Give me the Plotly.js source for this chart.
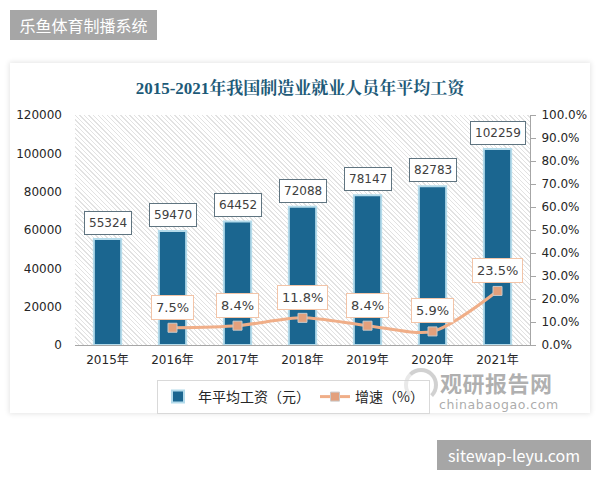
<!DOCTYPE html>
<html><head><meta charset="utf-8">
<script src="https://cdn.plot.ly/plotly-3.0.1.min.js"></script>
<style>
html,body{margin:0;padding:0;background:#fff;width:600px;height:480px;overflow:hidden;position:relative;font-family:"Noto Sans CJK SC",sans-serif;}
#card{position:absolute;left:10px;top:63px;width:580px;height:350px;background:#fff;box-shadow:0 0 5px 1px rgba(0,0,0,0.10);}
#hatch{position:absolute;left:75px;top:115px;width:455px;height:230px;
 background:repeating-linear-gradient(45deg,#ffffff 0px,#ffffff 2.2px,#e2e2e2 2.2px,#e2e2e2 3.2px);}
#chart{position:absolute;left:0;top:0;width:600px;height:480px;}
.tag{position:absolute;background:#a6a6a6;color:#fff;font-size:16px;line-height:30px;text-align:center;font-family:"Noto Sans CJK SC","Noto Sans",sans-serif;}
#wm1{position:absolute;left:440px;top:372px;font-size:22px;font-weight:bold;color:rgba(150,150,150,0.75);font-family:"Noto Sans CJK SC",sans-serif;pointer-events:none;line-height:21px;letter-spacing:0.5px;}
#wm2{position:absolute;left:439px;top:398px;font-size:12.5px;line-height:13px;color:rgba(150,150,150,0.8);font-family:"DejaVu Sans",sans-serif;pointer-events:none;letter-spacing:0.6px;}
#logo{position:absolute;left:404px;top:368px;width:26px;height:26px;border-radius:50%;border:4px solid rgba(190,190,190,0.7);border-bottom-color:transparent;border-left-color:rgba(210,210,210,0.5);pointer-events:none;}
</style></head>
<body>
<div id="card"></div>
<div id="hatch"></div>
<div id="chart"></div>
<div class="tag" style="left:10px;top:10px;width:147px;height:30px;">乐鱼体育制播系统</div>
<div class="tag" style="left:437px;top:440px;width:154px;height:30px;">sitewap-leyu.com</div>
<div id="logo"></div>
<div id="wm1">观研报告网</div>
<div id="wm2">chinabaogao.com</div>
<script>
const years = ["2015年","2016年","2017年","2018年","2019年","2020年","2021年"];
const wages = [55324, 59470, 64452, 72088, 78147, 82783, 102259];
const growthYears = ["2016年","2017年","2018年","2019年","2020年","2021年"];
const growth = [7.5, 8.4, 11.8, 8.4, 5.9, 23.5];
const leftTicks = [0, 20000, 40000, 60000, 80000, 100000, 120000];
const rightTicks = [0,10,20,30,40,50,60,70,80,90,100];

const tickFont = {family:"DejaVu Sans, Noto Sans CJK SC", size:12, color:"#262626"};

const traces = [
  {type:"bar", name:"年平均工资（元）", x:years, y:wages,
   marker:{color:"#1b6690", line:{color:"#b4dbeb", width:2}},
   hoverinfo:"skip"},
  {type:"scatter", mode:"lines+markers", name:"增速（%）", x:growthYears, y:growth, yaxis:"y2",
   line:{color:"#f0ae88", width:3, shape:"spline", smoothing:0.8},
   marker:{symbol:"square", size:9, color:"#e3a07c", line:{color:"#c9c9c9", width:1}},
   hoverinfo:"skip"}
];

const annotations = [];
years.forEach((c,i)=>annotations.push({x:c, y:wages[i], xref:"x", yref:"y",
  text:String(wages[i]), showarrow:false, yanchor:"bottom", yshift:4,
  font:{family:"DejaVu Sans", size:12, color:"#404040"},
  bgcolor:"#ffffff", bordercolor:"#5f7480", borderwidth:1, borderpad:4}));
growthYears.forEach((c,i)=>annotations.push({x:c, y:growth[i], xref:"x", yref:"y2",
  text:growth[i].toFixed(1)+"%", showarrow:false, yanchor:"bottom", yshift:8,
  font:{family:"DejaVu Sans", size:13, color:"#404040"},
  bgcolor:"#ffffff", bordercolor:"#f2c4a8", borderwidth:1, borderpad:4}));

const layout = {
  width:600, height:480,
  margin:{l:75, r:70, t:115, b:135},
  paper_bgcolor:"rgba(0,0,0,0)", plot_bgcolor:"rgba(0,0,0,0)",
  title:{text:"2015-2021年我国制造业就业人员年平均工资", x:0.5, xanchor:"center",
    y:1-88/480, yanchor:"middle",
    font:{family:"Liberation Serif, Noto Serif CJK SC, Noto Sans CJK SC", size:17, weight:"bold", color:"#1d5a78"}},
  bargap:0.58,
  showlegend:true,
  legend:{orientation:"h", x:(157-75)/455, xanchor:"left", y:-(380-345)/230, yanchor:"top",
    bgcolor:"#ffffff", bordercolor:"#d9d9d9", borderwidth:1,
    font:{family:"Noto Sans CJK SC", size:14, color:"#262626"}, itemwidth:30},
  xaxis:{type:"category", showgrid:false, zeroline:false, showline:true, linecolor:"#a6a6a6", linewidth:1,
    ticks:"", tickfont:tickFont, ticklabelstandoff:4, fixedrange:true},
  yaxis:{range:[0,120000], tickvals:leftTicks, ticktext:leftTicks.map(String), showgrid:false, zeroline:false,
    showline:false, ticks:"", tickfont:tickFont, ticklabelstandoff:12, fixedrange:true},
  yaxis2:{overlaying:"y", side:"right", range:[0,100], tickvals:rightTicks,
    ticktext:rightTicks.map(v=>v.toFixed(1)+"%"), showgrid:false, zeroline:false,
    showline:true, linecolor:"#a6a6a6", linewidth:1, ticks:"outside", ticklen:5, tickcolor:"#a6a6a6",
    tickfont:tickFont, ticklabelstandoff:3, fixedrange:true},
  annotations:annotations
};
Plotly.newPlot("chart", traces, layout, {displayModeBar:false, staticPlot:true});
</script>
</body></html>
